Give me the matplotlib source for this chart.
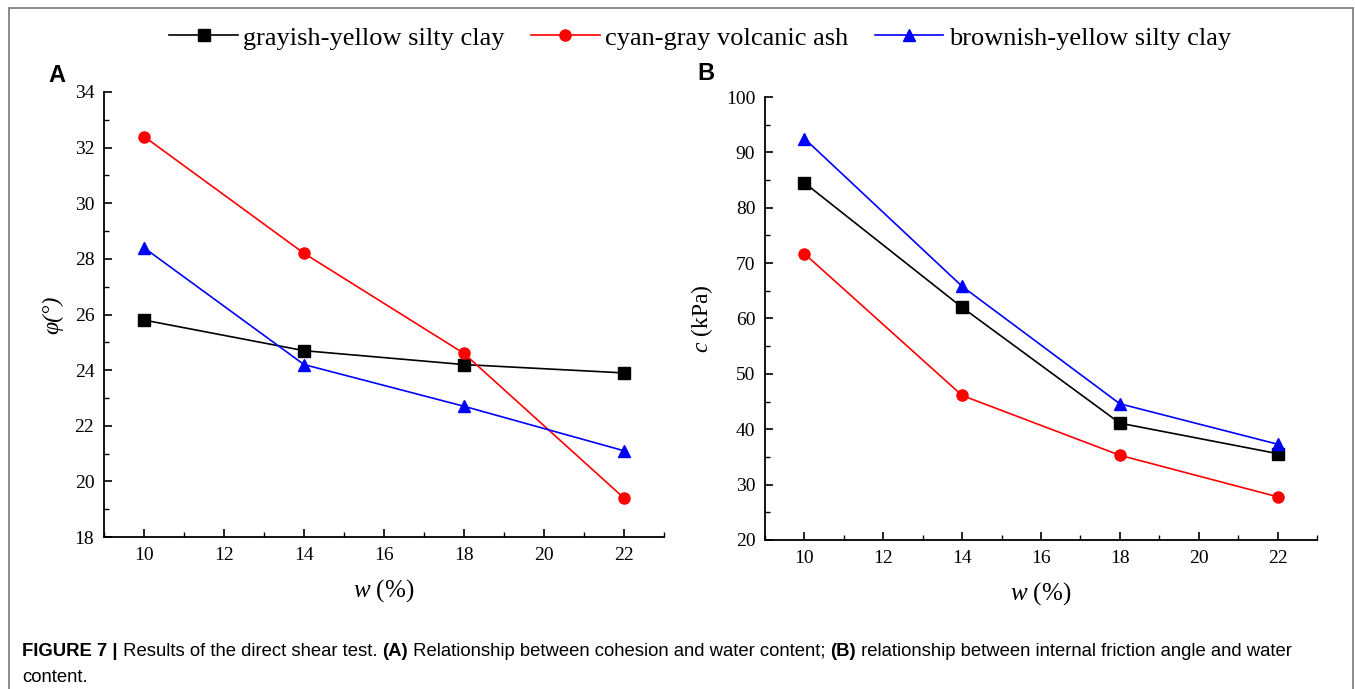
import matplotlib
matplotlib.use("Agg")
import matplotlib.pyplot as plt
from matplotlib.patches import Rectangle
from matplotlib.ticker import MultipleLocator

# water content (%)
w = [10, 14, 18, 22]

series_names = [
    "grayish-yellow silty clay",
    "cyan-gray volcanic ash",
    "brownish-yellow silty clay",
]

# internal friction angle (deg), panel A
phi_grayish = [25.8, 24.7, 24.2, 23.9]
phi_cyan = [32.4, 28.2, 24.6, 19.4]
phi_brownish = [28.4, 24.2, 22.7, 21.1]

# cohesion (kPa), panel B
c_grayish = [84.5, 62.0, 41.1, 35.6]
c_cyan = [71.7, 46.1, 35.3, 27.8]
c_brownish = [92.5, 65.8, 44.6, 37.3]

colors = ["black", "red", "blue"]
markers = ["s", "o", "^"]

serif = "Liberation Serif"
sans = "Liberation Sans"

plt.rcParams["mathtext.fontset"] = "custom"
plt.rcParams["mathtext.rm"] = serif
plt.rcParams["mathtext.it"] = serif + ":italic"

fig = plt.figure(figsize=(13.55, 6.89), dpi=100)

# grey frame around the whole figure
fig.patches.append(Rectangle((9 / 1355, -0.01), 1344 / 1355, 1.01 - 8 / 689,
                             transform=fig.transFigure, fill=False,
                             edgecolor="#777777", linewidth=1.2))

ax_a = fig.add_axes([104 / 1355, 1 - 537 / 689, 560 / 1355, 445 / 689])
ax_b = fig.add_axes([765 / 1355, 1 - 540 / 689, 552 / 1355, 443 / 689])


def style_axis(ax, ylim, ymajor, yminor):
    ax.set_xlim(9, 23)
    ax.set_ylim(*ylim)
    ax.xaxis.set_major_locator(MultipleLocator(2))
    ax.xaxis.set_minor_locator(MultipleLocator(1))
    ax.yaxis.set_major_locator(MultipleLocator(ymajor))
    ax.yaxis.set_minor_locator(MultipleLocator(yminor))
    for side in ("top", "right"):
        ax.spines[side].set_visible(False)
    for side in ("left", "bottom"):
        ax.spines[side].set_linewidth(1.3)
    ax.tick_params(which="major", direction="in", length=6, width=1.2,
                   labelsize=14, pad=7)
    ax.tick_params(which="minor", direction="in", length=3.5, width=1.0)
    for lab in ax.get_xticklabels() + ax.get_yticklabels():
        lab.set_fontfamily(serif)
    ax.set_xlabel("$w$ (%)", fontsize=18, family=serif, labelpad=10)


panel_a = [phi_grayish, phi_cyan, phi_brownish]
panel_b = [c_grayish, c_cyan, c_brownish]

handles = []
for vals, col, mk, name in zip(panel_a, colors, markers, series_names):
    h, = ax_a.plot(w, vals, color=col, marker=mk, markersize=8,
                   linewidth=1.2, label=name)
    handles.append(h)

for vals, col, mk in zip(panel_b, colors, markers):
    ax_b.plot(w, vals, color=col, marker=mk, markersize=8, linewidth=1.2)

style_axis(ax_a, (18, 34), 2, 1)
style_axis(ax_b, (20, 100), 10, 5)

ax_a.set_ylabel("φ(°)", fontsize=17, family=serif, style="italic", labelpad=8)
ax_b.set_ylabel("$c$ (kPa)", fontsize=17, family=serif, labelpad=8)

fig.legend(handles=handles, loc="center", bbox_to_anchor=(700 / 1355, 1 - 38 / 689),
           ncol=3, frameon=False, handlelength=2.6, handletextpad=0.2,
           columnspacing=1.0, prop={"family": serif, "size": 19})

fig.text(48 / 1355, 1 - 75 / 689, "A", fontsize=17, fontweight="bold",
         family=sans, ha="left", va="center")
fig.text(697 / 1355, 1 - 73 / 689, "B", fontsize=17, fontweight="bold",
         family=sans, ha="left", va="center")

# caption
cap_size = 13.3
cap_y1 = 1 - 652 / 689
cap_y2 = 1 - 678 / 689
t = fig.text(22 / 1355, cap_y1, "FIGURE 7 |", fontsize=cap_size, fontweight="bold",
             family=sans, ha="left", va="center")
fig.canvas.draw()
renderer = fig.canvas.get_renderer()
x = t.get_window_extent(renderer).x1
parts = [
    (" Results of the direct shear test. ", "normal"),
    ("(A)", "bold"),
    (" Relationship between cohesion and water content; ", "normal"),
    ("(B)", "bold"),
    (" relationship between internal friction angle and water", "normal"),
]
for txt, wt in parts:
    tt = fig.text(x / fig.bbox.width, cap_y1, txt, fontsize=cap_size, fontweight=wt,
                  family=sans, ha="left", va="center")
    x = tt.get_window_extent(renderer).x1
fig.text(22 / 1355, cap_y2, "content.", fontsize=cap_size, family=sans,
         ha="left", va="center")

fig.savefig("out.png", dpi=100)
